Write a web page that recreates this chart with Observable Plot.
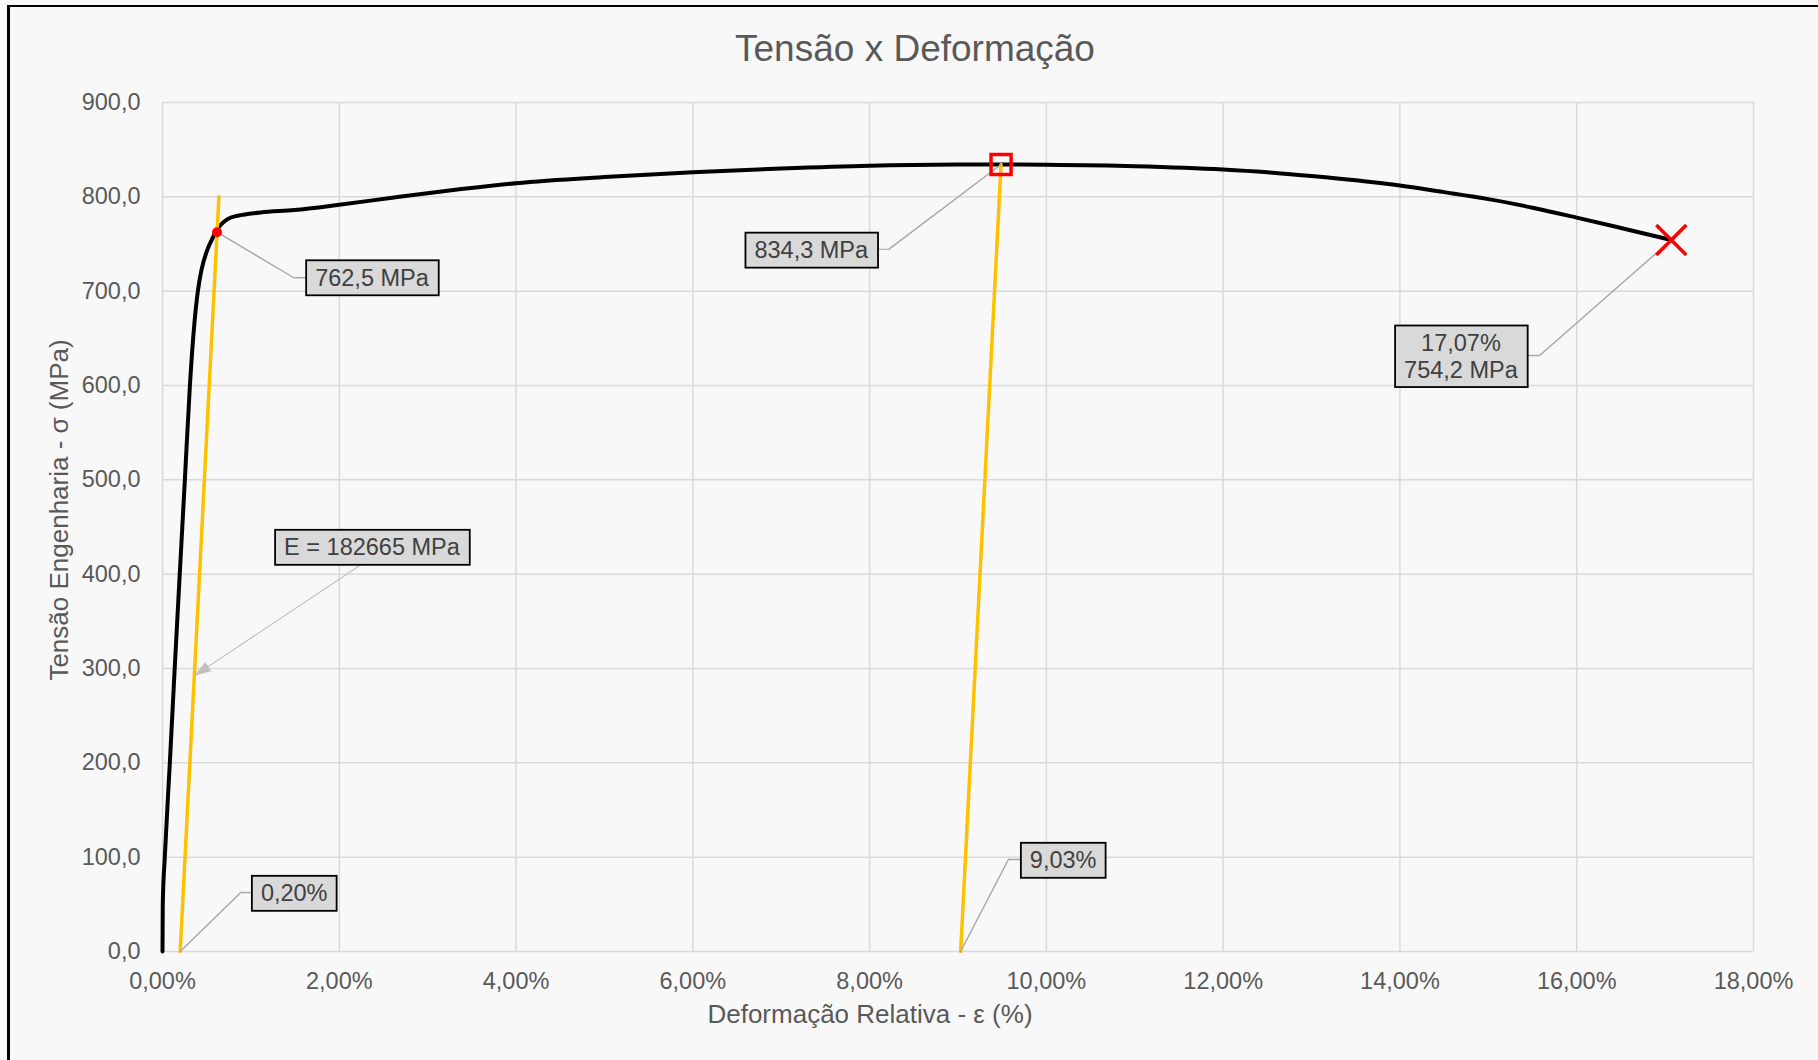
<!DOCTYPE html>
<html>
<head>
<meta charset="utf-8">
<script src="https://cdn.jsdelivr.net/npm/d3@7"></script>
<script src="https://cdn.jsdelivr.net/npm/@observablehq/plot@0.6"></script>
<style>
  html, body { margin: 0; padding: 0; background: #f8f8f8; overflow: hidden; }
  #wrap { position: relative; width: 1818px; height: 1060px; background: #f8f8f8; overflow: hidden;
          font-family: "Liberation Sans", Arial, sans-serif; }
  #border { position: absolute; left: 7px; top: 5px; right: -20px; bottom: -20px;
            border-left: 3px solid #000; border-top: 2px solid #000; pointer-events: none; z-index: 5; }
  #title { position: absolute; left: 915px; top: 30px; transform: translateX(-50%);
           font-size: 37px; line-height: 1; color: #595959; white-space: nowrap; }
  #xlabel { position: absolute; left: 870px; top: 1001px; transform: translateX(-50%);
            font-size: 26px; line-height: 1; color: #595959; white-space: nowrap; }
  #ylabel { position: absolute; left: 59px; top: 510px; transform: translate(-50%, -50%) rotate(-90deg);
            font-size: 26px; line-height: 1; color: #595959; white-space: nowrap; }
  #chart { position: absolute; left: 0; top: 0; }
</style>
</head>
<body>
<div id="wrap">
  <div id="chart"></div>
  <div id="title">Tensão x Deformação</div>
  <div id="xlabel">Deformação Relativa - ε (%)</div>
  <div id="ylabel">Tensão Engenharia - σ (MPa)</div>
  <div id="border"></div>
</div>
<script>
// ---------- data ----------
const strainPct = [0, 0.003, 0.026, 0.083, 0.138, 0.195, 0.253, 0.31, 0.36, 0.40, 0.44, 0.50, 0.56, 0.60, 0.66, 0.736, 0.849, 0.962, 1.11, 1.49, 2.0, 2.62, 3.38, 4.0, 5.0, 6.0, 7.0, 8.0, 9.0, 9.5, 10.0, 11.0, 12.0, 12.5, 13.0, 13.5, 14.0, 14.5, 15.0, 15.5, 16.0, 16.5, 17.07];
const stressMPa = [0, 50, 100, 200, 300, 400, 500, 600, 665, 700, 722, 742, 755, 762.5, 770.4, 776.4, 780, 781.7, 783.4, 786, 791.6, 799.3, 808.2, 814.5, 821, 826, 830, 833, 834.2, 834.3, 834, 832.5, 829, 826, 822, 817.5, 812, 805, 797.6, 788.5, 778, 767, 754.2];

const offset1Strain = [0.2, 0.638];
const offset1Stress = [0, 800];
const offset2Strain = [9.03, 9.487];
const offset2Stress = [0, 834.3];

const yieldPoint = [0.617, 762.5];
const utsPoint = [9.487, 834.3];
const fracturePoint = [17.07, 754.2];

const xTicks = [0, 2, 4, 6, 8, 10, 12, 14, 16, 18];
const xTickLabels = ["0,00%", "2,00%", "4,00%", "6,00%", "8,00%", "10,00%", "12,00%", "14,00%", "16,00%", "18,00%"];
const yTicks = [0, 100, 200, 300, 400, 500, 600, 700, 800, 900];
const yTickLabels = ["0,0", "100,0", "200,0", "300,0", "400,0", "500,0", "600,0", "700,0", "800,0", "900,0"];

const labelTexts = ["762,5 MPa", "E = 182665 MPa", "0,20%", "834,3 MPa", "9,03%", "17,07%\n754,2 MPa"];

// ---------- annotation layout (data coordinates) ----------
const labelPos = [[2.37, 714.7], [2.37, 429], [1.49, 62.2], [7.34, 744], [10.19, 97.2], [14.69, 631.5]];
const leaderAnchors = [yieldPoint, null, [offset1Strain[0], offset1Stress[0]], utsPoint, [offset2Strain[0], offset2Stress[0]], fracturePoint];
const leaderElbows = [[1.486, 714.2], null, [0.886, 62.5], [8.22, 744.6], [9.57, 97.5], [15.58, 631.8]];
const eArrowFrom = [2.245, 410];
const eArrowTo = [0.36, 292.2];

// ---------- build tables ----------
const curve = strainPct.map((x, i) => ({x, y: stressMPa[i]}));
const offset1 = offset1Strain.map((x, i) => ({x, y: offset1Stress[i]}));
const offset2 = offset2Strain.map((x, i) => ({x, y: offset2Stress[i]}));
const labels = labelTexts.map((t, i) => ({text: t, x: labelPos[i][0], y: labelPos[i][1]}));
const leaders = [];
labelTexts.forEach((t, i) => {
  if (!leaderAnchors[i]) return;
  leaders.push({id: i, x: leaderAnchors[i][0], y: leaderAnchors[i][1]});
  leaders.push({id: i, x: leaderElbows[i][0], y: leaderElbows[i][1]});
  leaders.push({id: i, x: labelPos[i][0], y: labelPos[i][1]});
});

const gridColor = "#d9d9d9";
const labelFill = "#404040";
const arrowColor = "#c0c0c1";

const svg = Plot.plot({
  width: 1818,
  height: 1060,
  marginLeft: 162,
  marginRight: 65,
  marginTop: 102,
  marginBottom: 109,
  style: {background: "transparent", fontFamily: "'Liberation Sans', Arial, sans-serif", fontSize: "23.5px", color: "#595959", overflow: "visible"},
  x: {domain: [0, 18], ticks: xTicks, tickFormat: d => xTickLabels[xTicks.indexOf(d)], tickSize: 0, tickPadding: 21, label: null},
  y: {domain: [0, 900], ticks: yTicks, tickFormat: d => yTickLabels[yTicks.indexOf(d)], tickSize: 0, tickPadding: 22, label: null},
  marks: [
    Plot.ruleX(xTicks, {stroke: gridColor, strokeWidth: 1.5}),
    Plot.ruleY(yTicks, {stroke: gridColor, strokeWidth: 1.5}),
    Plot.line(curve, {x: "x", y: "y", stroke: "#000", strokeWidth: 4, curve: "monotone-x"}),
    Plot.line(offset1, {x: "x", y: "y", stroke: "#FFC000", strokeWidth: 3.5}),
    Plot.line(offset2, {x: "x", y: "y", stroke: "#FFC000", strokeWidth: 3.5}),
    Plot.line(leaders, {x: "x", y: "y", z: "id", stroke: "#a6a6a6", strokeWidth: 1.4}),
    Plot.link([0], {x1: () => eArrowFrom[0], y1: () => eArrowFrom[1], x2: () => eArrowTo[0], y2: () => eArrowTo[1], stroke: arrowColor, strokeWidth: 1.1}),
    Plot.dot([yieldPoint], {x: d => d[0], y: d => d[1], r: 5, fill: "#ff0000", stroke: "none"}),
    Plot.dot([utsPoint], {x: d => d[0], y: d => d[1], symbol: "square", r: 11.3, fill: "none", stroke: "#ff0000", strokeWidth: 3.5}),
    Plot.dot([fracturePoint], {x: d => d[0], y: d => d[1], symbol: "times", r: 13.7, stroke: "#ff0000", strokeWidth: 3.5}),
    Plot.text(labels, {x: "x", y: "y", text: "text", fontSize: 23.5, fill: labelFill, lineHeight: 1.13})
  ]
});

document.getElementById("chart").appendChild(svg);

const ns = "http://www.w3.org/2000/svg";

// label boxes behind annotation texts
const allTexts = Array.from(svg.querySelectorAll("text"));
const annotTexts = allTexts.filter(t => {
  const parts = t.querySelectorAll("tspan");
  const s = parts.length ? Array.from(parts).map(p => p.textContent).join("\n") : t.textContent;
  return labelTexts.includes(s);
});
annotTexts.forEach(t => {
  const g = t.parentNode;
  const b = t.getBBox();
  const r = document.createElementNS(ns, "rect");
  r.setAttribute("x", b.x - 9);
  r.setAttribute("y", b.y - 4.5);
  r.setAttribute("width", b.width + 18);
  r.setAttribute("height", b.height + 9);
  r.setAttribute("fill", "#d9d9d9");
  r.setAttribute("stroke", "#000");
  r.setAttribute("stroke-width", 1.8);
  if (t.getAttribute("transform")) r.setAttribute("transform", t.getAttribute("transform"));
  g.insertBefore(r, t);
});

// filled arrowhead on the modulus leader
const defs = document.createElementNS(ns, "defs");
const marker = document.createElementNS(ns, "marker");
marker.setAttribute("id", "arrowGray");
marker.setAttribute("viewBox", "0 0 10 10");
marker.setAttribute("refX", 10);
marker.setAttribute("refY", 5);
marker.setAttribute("markerWidth", 17);
marker.setAttribute("markerHeight", 11);
marker.setAttribute("markerUnits", "userSpaceOnUse");
marker.setAttribute("orient", "auto");
marker.setAttribute("preserveAspectRatio", "none");
const mp = document.createElementNS(ns, "path");
mp.setAttribute("d", "M0,0L10,5L0,10Z");
mp.setAttribute("fill", arrowColor);
marker.appendChild(mp);
defs.appendChild(marker);
svg.insertBefore(defs, svg.firstChild);
svg.querySelectorAll("g").forEach(g => {
  if (g.getAttribute("stroke") === arrowColor) {
    g.querySelectorAll("path, line").forEach(p => p.setAttribute("marker-end", "url(#arrowGray)"));
  }
});
</script>
</body>
</html>
